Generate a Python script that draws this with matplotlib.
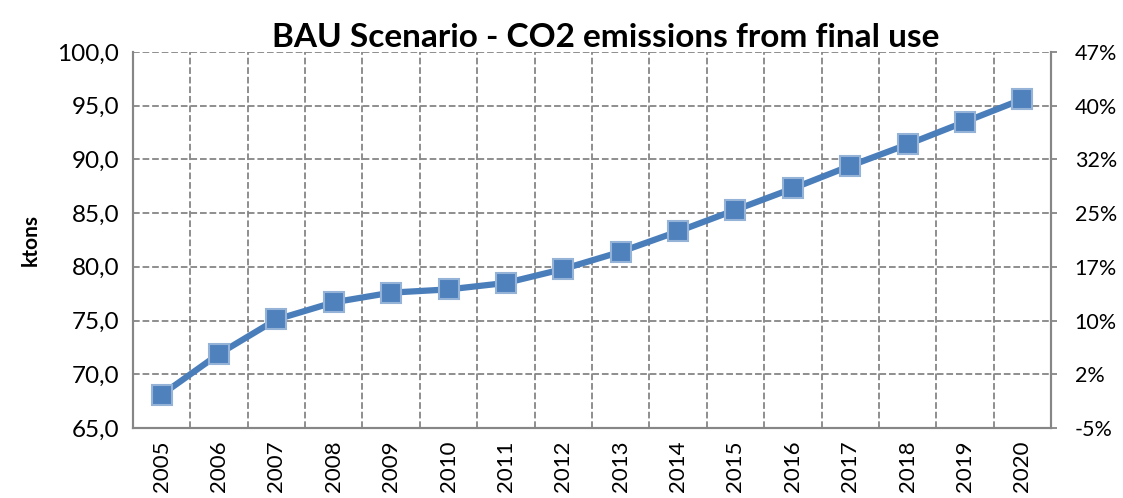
import matplotlib.pyplot as plt
import numpy as np

years = ['2005', '2006', '2007', '2008', '2009', '2010', '2011', '2012',
         '2013', '2014', '2015', '2016', '2017', '2018', '2019', '2020']
emissions = [68.1, 71.9, 75.1, 76.7, 77.6, 77.9, 78.5, 79.8,
             81.4, 83.3, 85.3, 87.3, 89.4, 91.4, 93.5, 95.6]
left_ticks = [65, 70, 75, 80, 85, 90, 95, 100]
right_ticks = [-0.05, 0.025, 0.10, 0.175, 0.25, 0.325, 0.40, 0.475]
right_labels = ['-5%', '2%', '10%', '17%', '25%', '32%', '40%', '47%']

plt.rcParams['font.family'] = ['Lato', 'DejaVu Sans']
grid_clr = '#868686'

fig = plt.figure(figsize=(11.23, 4.98), dpi=100)
ax = fig.add_axes([0.1184, 0.1406, 0.8175, 0.755])

x = np.arange(len(years))
ax.plot(x, emissions, color='#4A7EBB', lw=4.5, marker='s', ms=14,
        markerfacecolor='#4F81BD', markeredgecolor='#95B3D7', mew=1.5, zorder=3)

ax.set_xlim(-0.5, len(years) - 0.5)
ax.set_ylim(65, 100)
ax.set_yticks(left_ticks)
ax.set_yticklabels([('%.1f' % v).replace('.', ',') for v in left_ticks], fontsize=17.5)
ax.set_xticks(x)
ax.set_xticklabels(years, rotation=90, fontsize=16)
ax.set_xticks(np.arange(len(years) + 1) - 0.5, minor=True)
ax.tick_params(axis='x', which='both', length=0, pad=9)
ax.tick_params(axis='y', length=0, pad=10)
ax.grid(axis='x', which='minor', ls='--', color=grid_clr, lw=1.3)
ax.grid(axis='y', which='major', ls='--', color=grid_clr, lw=1.3)
ax.grid(axis='x', which='major', visible=False)

for s in ['left', 'bottom', 'right']:
    ax.spines[s].set_color(grid_clr)
    ax.spines[s].set_linewidth(1.5)
ax.spines['top'].set_visible(False)

ax.set_ylabel('ktons', fontsize=15, fontweight='bold')
ax.yaxis.set_label_coords(-0.10, 0.5)
ax.set_title('BAU Scenario - CO2 emissions from final use', fontsize=24,
             fontweight='bold', pad=3, x=0.515)

ax2 = ax.twinx()
ax2.set_ylim(-0.05, 0.475)
ax2.set_yticks(right_ticks)
ax2.set_yticklabels(right_labels, fontsize=15.5)
ax2.tick_params(axis='y', length=4, color=grid_clr, width=1.3, pad=13)
for s in ['left', 'bottom', 'right']:
    ax2.spines[s].set_color(grid_clr)
    ax2.spines[s].set_linewidth(1.5)
ax2.spines['top'].set_visible(False)

fig.savefig('out.png', dpi=100)
